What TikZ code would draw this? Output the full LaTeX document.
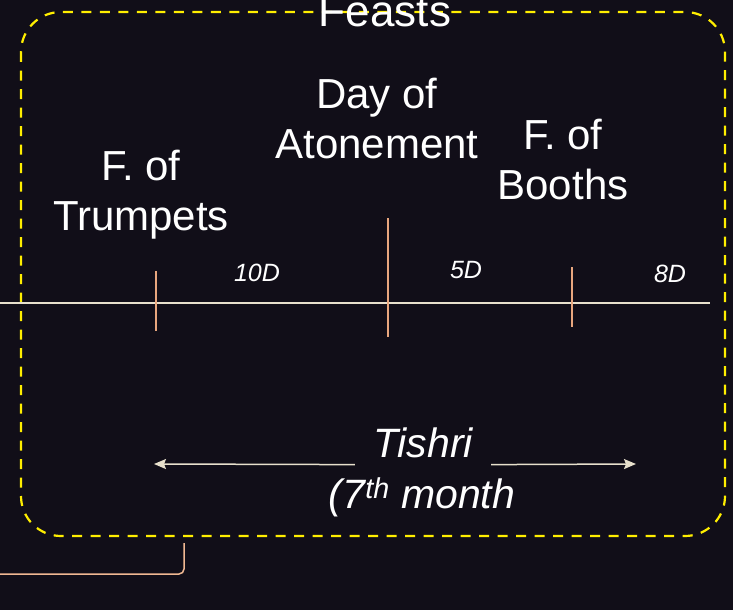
\documentclass[tikz,border=0pt]{standalone}
\usepackage{fontspec}
\setmainfont{Liberation Sans}
\usepackage{xcolor}
\usetikzlibrary{arrows.meta}
\definecolor{slide-bg}{HTML}{110E18}
\definecolor{feast-yellow}{HTML}{FFEE00}
\definecolor{line-cream}{HTML}{E8E0CC}
\definecolor{tick-tan}{HTML}{E8A67E}
\definecolor{brace-tan}{HTML}{F0B892}
\tikzset{
    feast-box/.style = {draw=feast-yellow, line width=2.2pt, dash pattern=on 10pt off 8.5pt, rounded corners=40pt},
    feast-label/.style = {text=white, font=\fontsize{42}{50}\selectfont, align=center, inner sep=0pt, anchor=north},
    day-count/.style = {text=white, font=\fontsize{25}{30}\selectfont\itshape, inner sep=0pt, anchor=base},
    month-label/.style = {text=white, font=\fontsize{41}{50}\selectfont\itshape, anchor=base},
    tick/.style = {draw=tick-tan, line width=1.5pt},
    month-arrow/.style = {draw=line-cream, line width=1.5pt, -{Stealth[length=12pt,width=10pt,inset=2pt]}},
}

\begin{document}
\begin{tikzpicture}[x=1pt, y=-1pt]
\useasboundingbox (0,0) rectangle (733,610);
\fill[slide-bg] (0,0) rectangle (733,610);

% box round the feasts
\draw[feast-box] (21,12) rectangle (725,536);
\node[text=white, font=\fontsize{44}{50}\selectfont, inner sep=0pt, anchor=base] (feasts) at (385,27) {Feasts};

% timeline
\draw[draw=line-cream, line width=2pt] (0,303) -- (710,303);
\draw[tick] (156,271) -- (156,331);
\draw[tick] (388,218) -- (388,337);
\draw[tick] (572,267) -- (572,327);

\node[feast-label] (trumpets) at (141,150) {F. of\\Trumpets};
\node[feast-label] (atonement) at (377,78) {Day of\\Atonement};
\node[feast-label] (booths) at (563,119) {F. of\\Booths};

\node[day-count] (ten-days) at (257,281) {10D};
\node[day-count] (five-days) at (466,278) {5D};
\node[day-count] (eight-days) at (670,282) {8D};

% the month
\node[month-label, inner xsep=18pt, inner ysep=7pt] (tishri) at (423,457) {Tishri};
\node[month-label, inner sep=0pt] (month) at (422,508) {(7\textsuperscript{th} month};
\coordinate (month-start) at (154,464);
\coordinate (month-end) at (636,464);
\draw[month-arrow] (tishri.south west) -- (month-start);
\draw[month-arrow] (tishri.south east) -- (month-end);

% bracket at the bottom
\draw[draw=brace-tan, line width=1.5pt, rounded corners=5pt] (0,574) -- (184,574) -- (184,543);
\end{tikzpicture}
\end{document}
